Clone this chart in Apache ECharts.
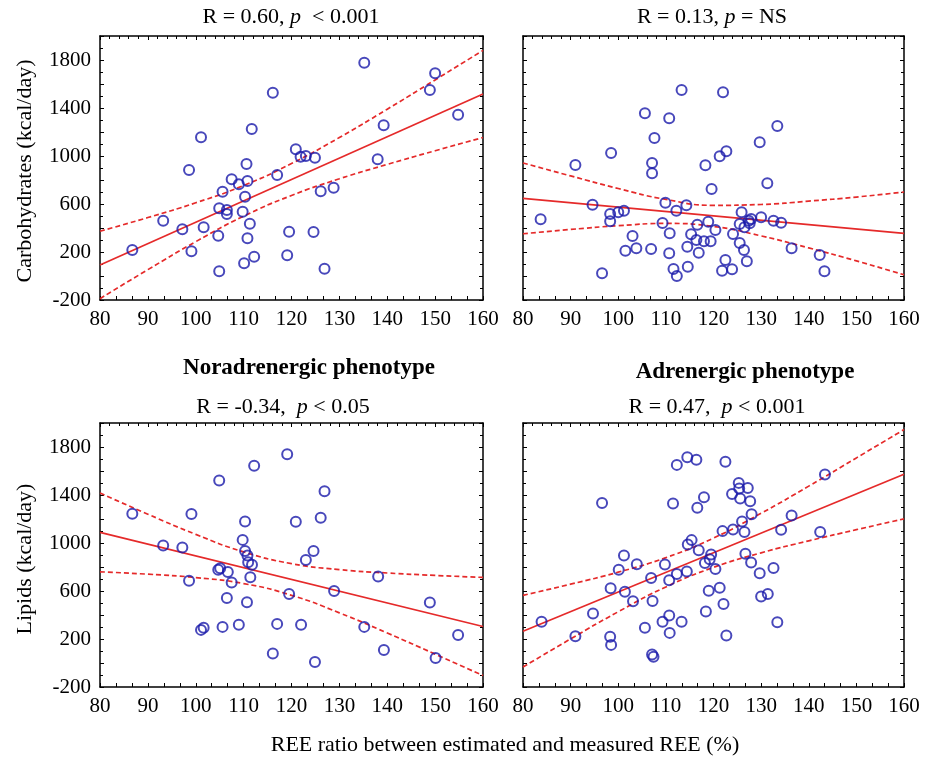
<!DOCTYPE html>
<html>
<head>
<meta charset="utf-8">
<script src="https://cdn.jsdelivr.net/npm/echarts@6/dist/echarts.min.js"></script>
<style>html,body{margin:0;padding:0;background:#fff}#c{width:929px;height:757px}</style>
</head>
<body>
<div id="c"></div>
<script>
// ---------- data ----------
const xTicks = [80, 90, 100, 110, 120, 130, 140, 150, 160];
const yTicks = [-200, 200, 600, 1000, 1400, 1800];

// Noradrenergic phenotype - carbohydrates
const noraCarbX = [86.75,93.2,97.2,99.1,98.6,101.1,101.65,104.7,104.9,104.9,105.6,106.5,106.5,107.5,109.0,109.8,110.1,110.3,110.6,110.8,110.8,111.3,111.7,112.2,116.1,117.0,119.1,119.5,120.9,121.9,123.0,124.6,124.9,126.1,126.9,128.8,135.2,138.0,139.25,148.9,150.0,154.8];
const noraCarbY = [217,461,389,206,883,1156,406,336,564,39,703,550,517,806,764,536,106,661,933,792,314,436,1225,161,1528,842,172,369,1056,994,1000,367,986,706,61,736,1778,972,1256,1550,1689,1344];

// Adrenergic phenotype - carbohydrates
const adrCarbX = [83.7,91.0,94.6,96.6,98.3,98.3,98.5,100.0,101.2,101.5,103.0,103.8,105.6,106.9,107.1,107.1,107.6,109.3,109.9,110.7,110.7,110.8,111.6,112.2,112.3,113.3,114.3,114.5,114.6,115.3,116.4,116.6,116.9,118.0,118.3,118.9,119.4,119.6,120.4,121.3,121.8,122.0,122.5,122.7,123.9,124.1,125.5,125.5,125.9,126.4,126.5,127.0,127.4,127.6,127.9,129.7,130.0,131.3,132.6,133.4,134.2,136.4,142.3,143.3];
const adrCarbY = [472,925,594,22,517,456,1025,531,544,211,333,231,1356,225,942,856,1150,442,611,189,1314,356,58,544,0,1550,589,244,78,347,300,428,194,289,922,453,289,725,383,997,44,1531,133,1039,56,350,275,433,531,217,406,122,461,439,475,1114,489,772,461,1250,444,231,175,39];

// Noradrenergic phenotype - lipids
const noraLipX = [86.75,93.2,97.2,98.6,99.1,101.1,101.65,104.7,104.9,105.1,105.6,106.5,106.7,107.5,109.0,109.8,110.3,110.3,110.7,110.8,110.95,111.4,111.75,112.2,116.1,117.0,119.1,119.5,120.9,122.0,123.0,124.6,124.9,126.1,126.9,128.9,135.2,138.1,139.3,148.9,150.1,154.8];
const noraLipY = [1244,979,962,686,1241,276,293,778,1520,789,301,541,759,670,318,1026,1180,934,507,895,839,714,819,1643,80,326,1740,575,1177,318,859,934,8,1210,1431,600,301,720,109,505,42,234];

// Adrenergic phenotype - lipids
const adrLipX = [83.9,91.0,94.7,96.6,98.3,98.5,98.4,100.1,101.2,101.4,103.1,103.9,105.6,106.9,107.2,107.1,107.4,109.3,109.8,110.7,110.7,110.8,111.5,112.3,112.3,113.3,114.4,114.5,114.6,115.4,116.4,116.6,116.9,118.0,118.2,118.4,119.0,119.2,119.5,120.4,121.3,121.9,122.1,122.5,122.7,123.9,124.1,125.3,125.4,125.6,126.0,126.5,126.7,127.2,127.7,127.9,128.0,129.7,130.0,131.4,132.6,133.4,134.2,136.4,142.4,143.4];
const adrLipY = [343,223,413,1334,218,151,622,778,895,594,514,823,293,709,516,70,53,343,820,689,396,251,1330,1651,742,343,762,1715,987,1024,1693,1294,940,1381,834,430,603,865,904,784,628,1099,491,1677,229,1409,1113,1501,1454,1370,1180,1091,910,1459,1347,837,1239,748,555,575,792,340,1110,1230,1091,1570];

// regression lines (value at x=80 and x=160) and 95% bands read along bandX
const fitX = [80, 160];
const bandX = [80, 90, 100, 110, 120, 130, 140, 150, 160];
const noraCarbFit = [92, 1517];
const noraCarbUp  = [373,487,610,754,937,1154,1390,1634,1880];
const noraCarbLo  = [-189,53,286,498,671,810,930,1044,1154];
const adrCarbFit = [647, 356];
const adrCarbUp  = [942,834,729,638,589,596,624,658,700];
const adrCarbLo  = [352,388,419,438,413,334,234,126,10];
const noraLipFit = [1088, 304];
const noraLipUp  = [1416,1240,1072,926,828,778,750,730,713];
const noraLipLo  = [760,740,712,662,564,418,250,74,-105];
const adrLipFit = [265, 1573];
const adrLipUp  = [564,657,757,878,1041,1248,1474,1709,1945];
const adrLipLo  = [-34,201,427,634,797,918,1018,1111,1201];

// ---------- chart ----------
const FONT = 'Liberation Serif';
const BLUE = '#1a1aaa';
const RED = '#e52a2a';
const zip = (a, b) => a.map((v, i) => [v, b[i]]);

const grids = [
  {left: 100, top: 36, width: 383, height: 264},
  {left: 523, top: 36, width: 381, height: 264},
  {left: 100, top: 423, width: 383, height: 264},
  {left: 523, top: 423, width: 381, height: 264}
];

const axisLine = {show: true, onZero: false, lineStyle: {color: '#000', width: 1.5}};
function xAx(gi, pos, show) {
  return {type: 'value', gridIndex: gi, position: pos, min: xTicks[0], max: xTicks[xTicks.length - 1], interval: 10,
    axisLine, splitLine: {show: false},
    axisTick: {show: true, inside: true, length: 4, lineStyle: {color: '#000', width: 1}},
    minorTick: {show: true, splitNumber: pos === 'top' ? 5 : 3, length: pos === 'top' ? 3 : 4, lineStyle: {color: '#000', width: 1}},
    axisLabel: {show, margin: 9, color: '#000', fontFamily: FONT, fontSize: 21}};
}
function yAx(gi, pos, show) {
  return {type: 'value', gridIndex: gi, position: pos, min: -200, max: 2000, interval: 200,
    axisLine, splitLine: {show: false},
    axisTick: {show: true, inside: true, length: 4, lineStyle: {color: '#000', width: 1}},
    minorTick: {show: true, splitNumber: 2, length: 3, lineStyle: {color: '#000', width: 1}},
    axisLabel: {show, margin: 9, color: '#000', fontFamily: FONT, fontSize: 21,
      formatter: v => (yTicks.indexOf(v) >= 0 ? String(v) : '')}};
}

const xAxis = [], yAxis = [];
for (let g = 0; g < 4; g++) {
  xAxis.push(xAx(g, 'bottom', true));
  xAxis.push(xAx(g, 'top', false));
  yAxis.push(yAx(g, 'left', g % 2 === 0));
  yAxis.push(yAx(g, 'right', false));
}

const panels = [
  {x: noraCarbX, y: noraCarbY, fit: noraCarbFit, up: noraCarbUp, lo: noraCarbLo},
  {x: adrCarbX, y: adrCarbY, fit: adrCarbFit, up: adrCarbUp, lo: adrCarbLo},
  {x: noraLipX, y: noraLipY, fit: noraLipFit, up: noraLipUp, lo: noraLipLo},
  {x: adrLipX, y: adrLipY, fit: adrLipFit, up: adrLipUp, lo: adrLipLo}
];

const series = [];
panels.forEach((p, g) => {
  const ax = {xAxisIndex: 2 * g, yAxisIndex: 2 * g};
  const dashed = {color: RED, width: 1.7, type: [5, 3]};
  series.push(Object.assign({type: 'line', data: zip(bandX, p.up), smooth: 0.5, symbol: 'none',
    lineStyle: dashed, silent: true, z: 2}, ax));
  series.push(Object.assign({type: 'line', data: zip(bandX, p.lo), smooth: 0.5, symbol: 'none',
    lineStyle: dashed, silent: true, z: 2}, ax));
  series.push(Object.assign({type: 'line', data: zip(fitX, p.fit), symbol: 'none',
    lineStyle: {color: RED, width: 1.7}, silent: true, z: 2}, ax));
  series.push(Object.assign({type: 'scatter', data: zip(p.x, p.y), symbol: 'circle', symbolSize: 10,
    itemStyle: {color: 'rgba(0,0,0,0)', borderColor: BLUE, borderWidth: 2}, z: 3}, ax));
});

const txt = (x, y, text, extra) => ({type: 'text', x, y, style: Object.assign({text, fill: '#000', font: '22px "' + FONT + '"',
  align: 'center', verticalAlign: 'middle', rich: {i: {fontStyle: 'italic', fontSize: 22, fontFamily: FONT}}}, extra || {})});

const graphic = [
  txt(291, 17, 'R = 0.60, {i|p}  < 0.001'),
  txt(712, 17, 'R = 0.13, {i|p} = NS'),
  txt(309, 368, 'Noradrenergic phenotype', {font: 'bold 23px "' + FONT + '"'}),
  txt(745, 372, 'Adrenergic phenotype', {font: 'bold 23px "' + FONT + '"'}),
  txt(283, 407, 'R = -0.34,  {i|p} < 0.05'),
  txt(717, 407, 'R = 0.47,  {i|p} < 0.001'),
  Object.assign(txt(25, 171, 'Carbohydrates (kcal/day)', {font: '22px "' + FONT + '"'}), {rotation: Math.PI / 2}),
  Object.assign(txt(25, 559, 'Lipids (kcal/day)', {font: '22px "' + FONT + '"'}), {rotation: Math.PI / 2}),
  txt(505, 745, 'REE ratio between estimated and measured REE (%)', {font: '22px "' + FONT + '"'})
];

const chart = echarts.init(document.getElementById('c'));
chart.setOption({animation: false, backgroundColor: '#fff', grid: grids, xAxis, yAxis, series, graphic});
</script>
</body>
</html>
